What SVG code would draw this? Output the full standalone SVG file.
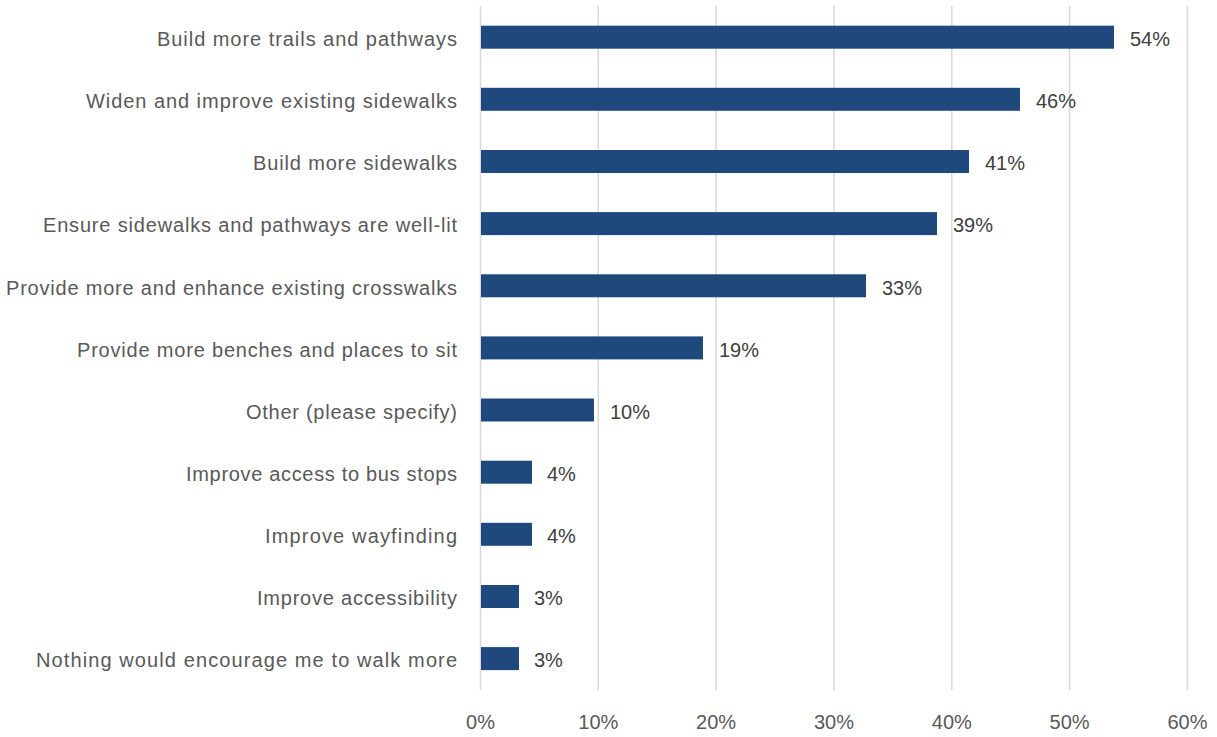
<svg xmlns="http://www.w3.org/2000/svg" width="1217" height="737" viewBox="0 0 1217 737">
<style>
.grid{stroke:#D9D9D9;stroke-width:1.5}
.bar{fill:#1F497D}
.cat{font-family:"Liberation Sans",Arial,sans-serif;font-size:20px;fill:#595959;text-anchor:end}
.val{font-family:"Liberation Sans",Arial,sans-serif;font-size:20px;fill:#404040}
.ax{font-family:"Liberation Sans",Arial,sans-serif;font-size:20px;fill:#595959;text-anchor:middle}
</style>
<rect width="1217" height="737" fill="#FFFFFF"/>
<g id="gridlines">
<line class="grid" x1="480.5" y1="6" x2="480.5" y2="690"/>
<line class="grid" x1="598.3" y1="6" x2="598.3" y2="690"/>
<line class="grid" x1="716.1" y1="6" x2="716.1" y2="690"/>
<line class="grid" x1="834" y1="6" x2="834" y2="690"/>
<line class="grid" x1="951.8" y1="6" x2="951.8" y2="690"/>
<line class="grid" x1="1069.6" y1="6" x2="1069.6" y2="690"/>
<line class="grid" x1="1187.5" y1="6" x2="1187.5" y2="690"/>
</g>
<g id="axis-labels">
<text class="ax" x="480.5" y="729">0%</text>
<text class="ax" x="598.3" y="729">10%</text>
<text class="ax" x="716.1" y="729">20%</text>
<text class="ax" x="834" y="729">30%</text>
<text class="ax" x="951.8" y="729">40%</text>
<text class="ax" x="1069.6" y="729">50%</text>
<text class="ax" x="1187.5" y="729">60%</text>
</g>
<g id="row1"><rect class="bar" x="481" y="25.7" width="633" height="23"/><text class="cat" x="457" y="46" textLength="300">Build more trails and pathways</text><text class="val" x="1130" y="46">54%</text></g>
<g id="row2"><rect class="bar" x="481" y="87.8" width="539" height="23"/><text class="cat" x="457" y="108.1" textLength="371">Widen and improve existing sidewalks</text><text class="val" x="1036" y="108.1">46%</text></g>
<g id="row3"><rect class="bar" x="481" y="150" width="488" height="23"/><text class="cat" x="457" y="170.3" textLength="204">Build more sidewalks</text><text class="val" x="985" y="170.3">41%</text></g>
<g id="row4"><rect class="bar" x="481" y="212.1" width="456" height="23"/><text class="cat" x="457" y="232.4" textLength="414">Ensure sidewalks and pathways are well-lit</text><text class="val" x="953" y="232.4">39%</text></g>
<g id="row5"><rect class="bar" x="481" y="274.3" width="385" height="23"/><text class="cat" x="457" y="294.6" textLength="451">Provide more and enhance existing crosswalks</text><text class="val" x="882" y="294.6">33%</text></g>
<g id="row6"><rect class="bar" x="481" y="336.4" width="222" height="23"/><text class="cat" x="457" y="356.7" textLength="380">Provide more benches and places to sit</text><text class="val" x="719" y="356.7">19%</text></g>
<g id="row7"><rect class="bar" x="481" y="398.5" width="113" height="23"/><text class="cat" x="457" y="418.8" textLength="211">Other (please specify)</text><text class="val" x="610" y="418.8">10%</text></g>
<g id="row8"><rect class="bar" x="481" y="460.7" width="51" height="23"/><text class="cat" x="457" y="481" textLength="271">Improve access to bus stops</text><text class="val" x="547" y="481">4%</text></g>
<g id="row9"><rect class="bar" x="481" y="522.8" width="51" height="23"/><text class="cat" x="457" y="543.1" textLength="192">Improve wayfinding</text><text class="val" x="547" y="543.1">4%</text></g>
<g id="row10"><rect class="bar" x="481" y="585" width="38" height="23"/><text class="cat" x="457" y="605.3" textLength="200">Improve accessibility</text><text class="val" x="534" y="605.3">3%</text></g>
<g id="row11"><rect class="bar" x="481" y="647.1" width="38" height="23"/><text class="cat" x="457" y="667.4" textLength="421">Nothing would encourage me to walk more</text><text class="val" x="534" y="667.4">3%</text></g>
</svg>
